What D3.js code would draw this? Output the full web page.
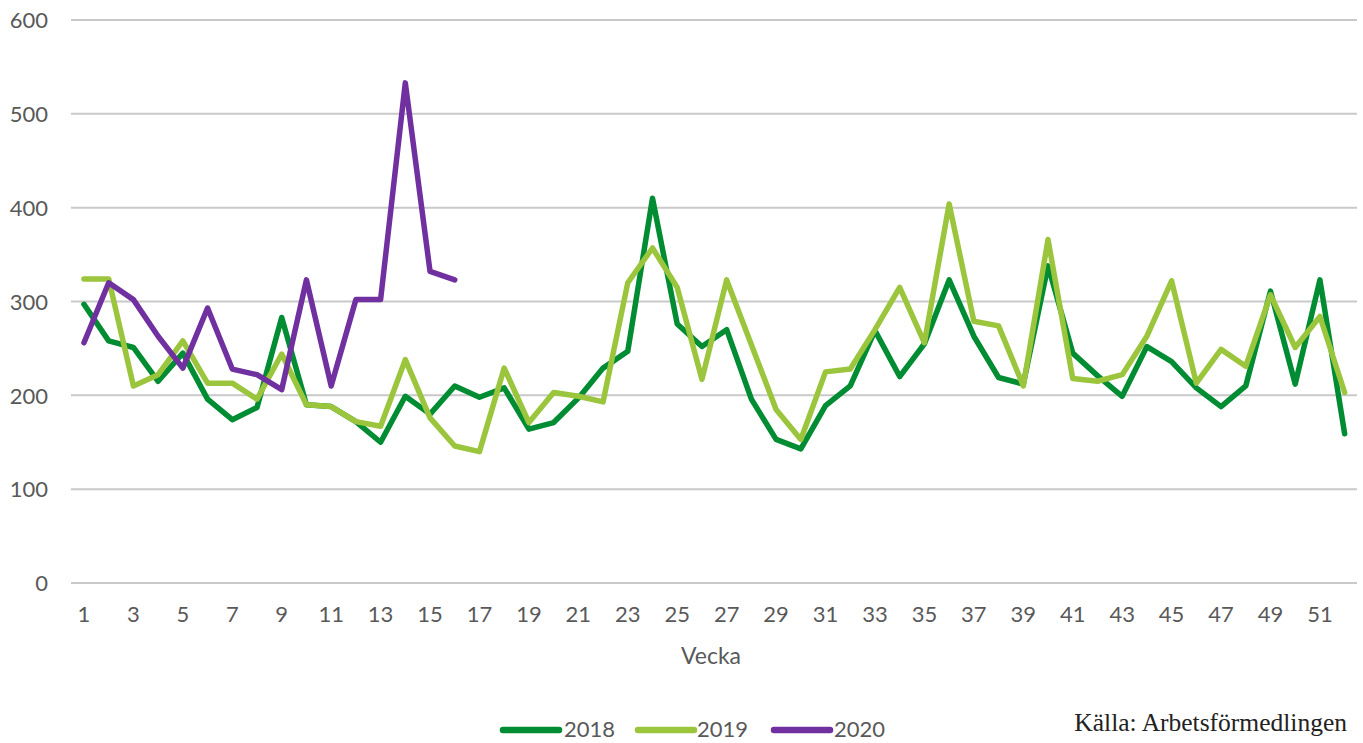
<!DOCTYPE html>
<html>
<head>
<meta charset="utf-8">
<script src="https://cdn.jsdelivr.net/npm/d3@7"></script>
<style>
  html, body { margin: 0; padding: 0; background: #fff; }
  svg { display: block; }
</style>
</head>
<body>
<svg id="chart" width="1363" height="743"></svg>
<script>
const weeks = d3.range(1, 53);
const xTickLabels = d3.range(1, 53, 2);
const yTickValues = [0, 100, 200, 300, 400, 500, 600];
const seriesNames = ["2018", "2019", "2020"];
const values2018 = [297,258,251,215,245,196,174,187,283,190,188,172,150,199,180,210,198,208,164,171,197,229,247,410,276,252,270,196,153,143,189,210,269,220,255,323,263,219,212,338,245,221,199,252,236,208,188,210,311,212,323,159];
const values2019 = [324,324,210,222,258,213,213,196,244,190,188,172,167,238,176,146,140,229,171,203,199,193,320,357,315,217,323,254,185,153,225,228,270,315,256,404,279,274,210,366,218,215,222,263,322,213,249,231,307,251,284,203];
const values2020 = [256,320,302,263,229,293,228,222,206,323,210,302,302,533,332,323];
const colors = ["#008C32", "#9BC53C", "#7030A0"];

const svg = d3.select("#chart");
const font = "Lato, 'Open Sans', sans-serif";
const textColor = "#595959";

const x = d3.scaleBand().domain(weeks).range([71.6, 1357]).padding(0);
const cx = w => x(w) + x.bandwidth() / 2;
const y = d3.scaleLinear().domain([0, 600]).range([583, 20]);

// gridlines
svg.append("g").selectAll("line").data(yTickValues).join("line")
  .attr("x1", 71).attr("x2", 1357)
  .attr("y1", d => y(d)).attr("y2", d => y(d))
  .attr("stroke", "#c9c9c9").attr("stroke-width", 2);

// y axis labels
const yAxis = d3.axisLeft(y).tickValues(yTickValues).tickSize(0).tickPadding(0);
const gy = svg.append("g").attr("transform", "translate(48,0)").call(yAxis);
gy.select(".domain").remove();
gy.selectAll("text").attr("font-family", font).attr("font-size", 22)
  .attr("fill", textColor).attr("dy", "0.35em").attr("text-anchor", "end");

// x axis labels
const xAxis = d3.axisBottom(x).tickValues(xTickLabels).tickSize(0).tickPadding(0);
const gx = svg.append("g").attr("transform", "translate(0,622)").call(xAxis);
gx.select(".domain").remove();
gx.selectAll("text").attr("font-family", font).attr("font-size", 22)
  .attr("fill", textColor).attr("dy", "0").attr("y", 0);

// axis title
svg.append("text").attr("x", 711).attr("y", 664).attr("text-anchor", "middle")
  .attr("font-family", font).attr("font-size", 23).attr("fill", textColor).text("Vecka");

// lines
const allSeries = [values2018, values2019, values2020];
const line = d3.line().x((d, i) => cx(weeks[i])).y(d => y(d));
svg.append("g").selectAll("path").data(allSeries).join("path")
  .attr("d", d => line(d))
  .attr("fill", "none")
  .attr("stroke", (d, i) => colors[i])
  .attr("stroke-width", 5.5)
  .attr("stroke-linejoin", "round")
  .attr("stroke-linecap", "round");

// legend
const legendItems = [
  { x: 503, tx: 564 },
  { x: 638, tx: 697 },
  { x: 774, tx: 834 }
];
const lg = svg.append("g");
seriesNames.forEach((name, i) => {
  lg.append("line").attr("x1", legendItems[i].x).attr("x2", legendItems[i].x + 56)
    .attr("y1", 730).attr("y2", 730)
    .attr("stroke", colors[i]).attr("stroke-width", 6.5).attr("stroke-linecap", "round");
  lg.append("text").attr("x", legendItems[i].tx).attr("y", 737)
    .attr("font-family", font).attr("font-size", 22).attr("fill", textColor).text(name);
});

// source
svg.append("text").attr("x", 1347).attr("y", 731).attr("text-anchor", "end")
  .attr("font-family", "'Liberation Serif', 'DejaVu Serif', serif").attr("font-size", 25.5)
  .attr("fill", "#222").text("Källa: Arbetsförmedlingen");
</script>
</body>
</html>
